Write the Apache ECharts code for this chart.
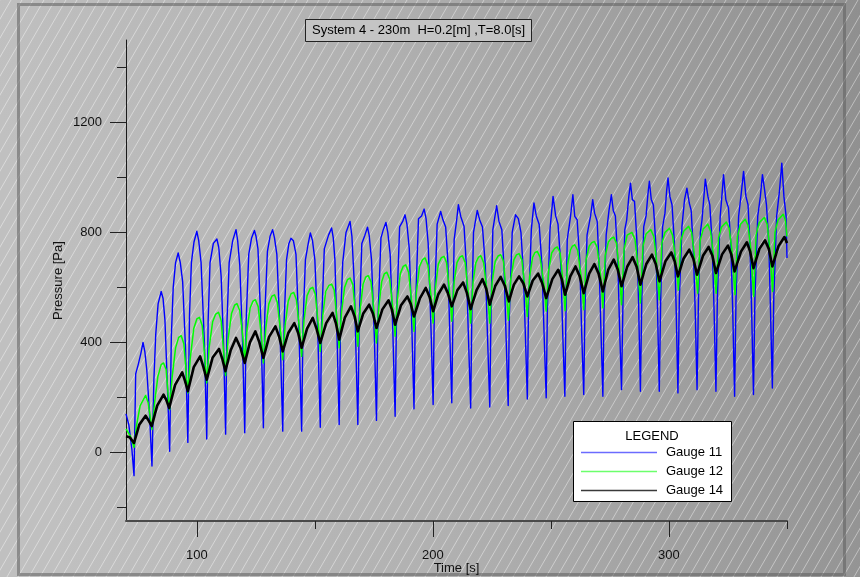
<!DOCTYPE html>
<html><head><meta charset="utf-8">
<script src="https://cdn.jsdelivr.net/npm/echarts@6/dist/echarts.min.js"></script>
<style>html,body{margin:0;padding:0;background:#a8a8a8}#c{width:860px;height:577px}</style>
</head><body><div id="c"></div>
<script>
// ---------- data ----------
const titleText = 'System 4 - 230m  H=0.2[m] ,T=8.0[s]';
const legendTitle = 'LEGEND';
const seriesNames = ['Gauge 11', 'Gauge 12', 'Gauge 14'];
const xName = 'Time [s]';
const yName = 'Pressure [Pa]';
const xRange = [70, 350];
const yRange = [-250, 1500];
const xMajorTicks = [100, 200, 300];
const xMinorTicks = [150, 250, 350];
const yMajorTicks = [0, 400, 800, 1200];
const yMinorTicks = [-200, 200, 600, 1000, 1400];

const gauge11 = [
[70.0,140],[71.2,100],[72.5,10],[73.4,-85],
[74.1,285],[75.2,320],[76.3,360],[77.2,400],[78.0,365],[78.8,300],[79.9,150],[81.0,-50],
[81.8,260],[82.6,430],[83.6,540],[84.9,585],[85.7,560],[86.5,480],[87.5,250],[88.5,4],
[89.2,420],[90.0,600],[91.0,690],[92.1,725],[93.0,690],[94.0,620],[95.2,380],[96.2,36],
[96.9,500],[97.7,690],[98.8,765],[100.0,804],[100.8,770],[101.8,690],[103.2,400],[104.2,48],
[104.8,480],[105.6,690],[107.0,760],[108.5,776],[109.3,745],[110.3,640],[111.3,400],[112.2,66],
[112.8,480],[113.7,690],[115.2,770],[116.6,810],[117.3,770],[118.2,680],[119.3,420],[120.3,71],
[120.9,480],[122.0,720],[123.2,780],[124.4,807],[125.1,785],[125.9,740],[127.1,480],[128.2,89],
[128.8,500],[129.9,730],[131.0,785],[132.1,810],[132.9,780],[133.9,720],[135.2,450],[136.4,77],
[137.0,480],[138.0,700],[139.0,760],[139.9,779],[140.9,770],[142.0,720],[143.3,430],[144.4,77],
[145.0,470],[146.0,700],[147.2,760],[148.1,798],[149.0,770],[150.0,700],[151.2,450],[152.3,91],
[152.9,480],[154.0,740],[155.8,790],[157.1,816],[157.8,780],[158.5,700],[159.4,420],[160.3,101],
[160.9,480],[161.8,690],[163.2,800],[164.9,840],[165.7,785],[166.7,615],[167.4,373],[168.2,101],
[168.8,480],[169.9,760],[171.2,790],[172.3,819],[173.0,790],[174.0,700],[175.2,420],[176.1,116],
[176.7,480],[178.0,780],[179.0,810],[180.1,836],[180.9,800],[181.9,720],[183.0,450],[184.0,131],
[184.6,500],[185.9,820],[187.2,840],[188.2,864],[189.0,830],[190.0,740],[191.1,450],[192.0,158],
[192.6,520],[193.9,850],[195.2,860],[196.3,885],[197.1,850],[198.0,760],[199.2,450],[200.1,174],
[200.6,520],[201.8,830],[203.3,876],[204.1,850],[205.4,820],[206.3,700],[207.2,420],[208.0,180],
[208.5,500],[209.0,773],[210.0,840],[210.8,901],[211.8,858],[213.2,822],[214.2,676],[215.0,434],[216.0,161],
[216.5,500],[217.2,800],[218.8,880],[219.8,846],[221.0,820],[222.2,680],[223.1,430],[224.1,165],
[224.6,500],[225.4,810],[227.0,897],[228.0,840],[229.2,810],[230.2,660],[231.0,420],[231.9,170],
[232.4,500],[233.6,800],[235.0,864],[236.2,850],[237.3,800],[238.3,660],[239.2,420],[240.0,194],
[240.5,520],[241.7,810],[242.8,907],[243.8,860],[245.0,830],[246.2,680],[247.1,430],[248.0,198],
[248.5,520],[249.6,810],[250.9,931],[252.0,860],[253.0,830],[254.2,680],[255.0,430],[255.9,204],
[256.4,520],[256.9,773],[258.3,858],[259.3,937],[260.1,858],[261.1,846],[262.2,700],[263.0,440],[263.9,210],
[264.4,520],[265.3,790],[266.8,860],[267.7,919],[268.5,870],[269.6,840],[270.4,680],[271.2,440],[272.0,204],
[272.5,520],[273.4,790],[274.6,880],[275.6,937],[276.4,880],[277.3,860],[278.3,700],[279.1,450],[279.9,228],
[280.6,592],[281.3,810],[282.1,846],[283.0,931],[283.7,979],[284.5,919],[285.4,913],[286.4,773],[287.1,555],[287.9,222],
[288.5,560],[289.3,820],[290.3,860],[291.1,940],[291.7,986],[292.5,920],[293.4,900],[294.4,760],[295.1,540],[295.9,222],
[296.5,560],[297.3,820],[298.3,870],[299.0,950],[299.6,998],[300.4,930],[301.3,900],[302.3,760],[303.0,540],[303.8,216],
[304.4,560],[305.5,822],[306.6,919],[307.6,961],[308.6,907],[309.4,880],[310.3,740],[311.1,520],[311.9,228],
[312.5,560],[313.3,800],[314.0,846],[315.4,994],[316.5,931],[317.3,900],[318.3,760],[319.1,520],[319.9,222],
[320.5,560],[321.7,858],[322.4,930],[323.1,1010],[324.1,919],[325.2,890],[326.2,760],[327.0,520],[327.8,204],
[328.4,560],[329.5,858],[330.6,940],[331.6,1022],[332.6,931],[333.5,900],[334.3,760],[335.0,520],[335.8,210],
[336.4,560],[337.6,858],[338.7,930],[339.6,1010],[340.5,955],[341.3,900],[342.3,760],[343.0,520],[343.8,234],
[344.4,560],[345.6,858],[346.8,950],[347.8,1052],[348.7,930],[349.6,860],[350.0,707]
];

const gauge12 = [
[70.0,85],[71.8,60],[73.4,18],
[74.5,100],[76.0,170],[78.3,207],[79.4,180],[80.4,120],[81.0,83],
[82.1,180],[83.5,276],[84.9,319],[85.9,325],[87.0,301],[87.9,204],[88.5,155],
[89.5,270],[91.0,380],[92.3,418],[93.4,424],[94.5,395],[95.5,290],[96.2,216],
[97.2,340],[98.7,450],[100.0,485],[101.1,491],[102.3,460],[103.5,330],[104.2,252],
[105.2,380],[106.7,475],[108.0,503],[109.2,509],[110.3,480],[111.5,350],[112.2,279],
[113.2,410],[114.7,505],[116.0,535],[117.0,541],[118.2,515],[119.5,420],[120.3,330],
[121.3,450],[122.6,525],[123.8,550],[124.8,555],[126.0,530],[127.4,420],[128.2,325],
[129.2,450],[130.5,540],[131.8,568],[132.9,573],[134.1,545],[135.6,430],[136.4,337],
[137.4,460],[138.7,550],[139.9,576],[141.0,582],[142.2,555],[143.6,440],[144.4,349],
[145.4,480],[146.7,570],[148.0,595],[149.1,600],[150.2,575],[151.5,460],[152.3,367],
[153.3,495],[154.6,585],[156.0,607],[157.1,612],[158.2,590],[159.5,470],[160.3,380],
[161.3,510],[162.6,600],[163.8,628],[164.9,634],[166.1,610],[167.4,480],[168.2,386],
[169.2,520],[170.4,610],[171.5,637],[172.6,643],[173.8,620],[175.3,490],[176.1,398],
[177.1,530],[178.3,620],[179.4,649],[180.5,655],[181.7,630],[183.2,510],[184.0,422],
[185.0,560],[186.2,650],[187.4,676],[188.5,682],[189.7,655],[191.2,530],[192.0,440],
[193.0,580],[194.3,675],[195.6,701],[196.7,707],[197.9,680],[199.3,560],[200.1,470],
[201.1,600],[202.3,685],[203.6,708],[204.7,713],[205.8,690],[207.2,570],[208.0,477],
[209.0,620],[210.2,690],[211.4,710],[212.5,715],[213.7,690],[215.2,560],[216.0,470],
[217.0,620],[218.2,690],[219.3,710],[220.3,715],[221.5,690],[223.3,560],[224.1,470],
[225.1,620],[226.4,695],[227.6,714],[228.7,719],[229.9,695],[231.2,570],[232.0,480],
[233.0,630],[234.3,700],[235.4,718],[236.5,723],[237.7,700],[239.2,580],[240.0,494],
[241.0,640],[242.2,708],[243.2,726],[244.2,731],[245.4,710],[247.2,600],[248.0,513],
[249.0,660],[250.3,725],[251.6,742],[252.7,747],[253.9,725],[255.2,610],[256.0,515],
[257.0,680],[258.2,735],[259.1,750],[260.1,755],[261.3,735],[263.1,620],[263.9,519],
[264.9,700],[266.2,750],[267.3,763],[268.4,767],[269.6,745],[271.2,630],[272.0,525],
[273.0,715],[274.3,765],[275.5,778],[276.6,783],[277.8,760],[279.1,640],[279.9,537],
[281.0,740],[282.3,790],[284.3,800],[285.6,775],[286.6,701],[287.4,600],[287.9,543],
[289.0,750],[290.3,795],[292.3,810],[293.6,785],[294.6,710],[295.4,610],[295.9,555],
[297.0,760],[298.3,800],[300.2,815],[301.5,790],[302.6,720],[303.5,640],[304.0,590],
[305.0,770],[306.3,805],[308.3,822],[309.6,800],[310.6,730],[311.6,630],[312.2,579],
[313.2,770],[314.5,812],[316.4,830],[317.6,805],[318.6,735],[319.5,630],[320.0,579],
[321.0,780],[322.3,820],[324.3,838],[325.5,815],[326.6,740],[327.5,630],[328.0,573],
[329.0,785],[330.3,830],[332.3,848],[333.5,825],[334.6,745],[335.4,630],[335.9,567],
[336.9,790],[338.2,835],[340.4,854],[341.6,830],[342.6,750],[343.4,650],[343.9,585],
[344.9,800],[346.2,845],[348.4,866],[349.3,845],[350.0,785]
];

const gauge14 = [
[70.0,58],[71.5,55],[73.4,34],
[75.6,100],[78.3,133],[79.6,115],[80.9,95],
[83.2,170],[85.9,210],[87.1,190],[88.3,161],
[90.8,245],[93.8,291],[95.0,260],[96.2,222],
[98.7,310],[101.4,349],[102.8,310],[104.2,264],
[106.7,345],[109.4,376],[110.8,340],[112.1,295],
[114.3,370],[116.6,416],[118.5,380],[120.3,325],
[122.5,400],[124.8,440],[126.5,400],[128.2,343],
[130.6,420],[133.3,458],[134.9,420],[136.4,367],
[138.8,435],[141.3,470],[142.9,435],[144.4,380],
[146.7,450],[149.1,489],[150.7,450],[152.3,398],
[154.8,470],[157.5,507],[158.9,470],[160.3,410],
[162.7,490],[165.3,531],[166.8,495],[168.2,440],
[170.5,505],[173.0,537],[174.6,505],[176.1,452],
[178.6,520],[181.2,553],[182.6,520],[184.0,464],
[186.5,535],[189.2,567],[190.6,540],[192.0,494],
[194.5,560],[197.0,598],[198.6,565],[200.1,513],
[202.3,575],[204.7,610],[206.3,580],[208.0,531],
[210.4,590],[212.8,618],[214.4,580],[216.0,521],
[218.5,590],[221.0,630],[222.6,595],[224.1,537],
[226.4,605],[228.7,638],[230.5,605],[232.2,549],
[234.3,610],[236.5,640],[238.3,615],[240.0,567],
[242.3,625],[244.6,650],[246.3,615],[248.0,561],
[250.6,630],[253.1,664],[254.6,630],[256.0,573],
[258.2,640],[260.4,676],[262.2,640],[263.9,579],
[266.2,650],[268.4,685],[270.2,650],[272.0,585],
[274.3,665],[276.6,701],[278.3,665],[279.9,604],
[282.3,675],[284.6,710],[286.3,675],[287.9,610],
[290.4,685],[292.8,719],[294.4,685],[296.0,622],
[298.5,695],[301.0,727],[302.4,695],[303.8,640],
[306.2,705],[308.6,737],[310.3,705],[311.9,646],
[314.4,715],[316.8,747],[318.4,715],[319.9,652],
[322.5,720],[325.0,752],[326.4,720],[327.8,658],
[330.5,730],[333.0,764],[334.4,730],[335.8,670],
[338.3,740],[340.7,771],[342.3,740],[343.8,676],
[346.4,750],[348.9,783],[350.0,761]
];

// ---------- styling ----------
const FONT = "'Liberation Sans', Arial, sans-serif";
const colors = ['#0000ff', '#00ff00', '#000000'];
const widths = [1.4, 1.5, 2.6];
const legendLineColors = ['#6b6bff', '#6cff6c', '#3a3a3a'];

function stripeTile() {
  const p = 11, h = 19;
  const c = document.createElement('canvas');
  c.width = p; c.height = h;
  const g = c.getContext('2d');
  g.strokeStyle = 'rgba(255,255,255,0.42)';
  g.lineWidth = 1;
  g.beginPath();
  for (const dx of [-p, 0, p]) { g.moveTo(dx, h); g.lineTo(dx + p, 0); }
  g.stroke();
  return c;
}

const chart = echarts.init(document.getElementById('c'), null, {renderer: 'canvas'});

const legendTop = 421.5, legendLeft = 573.5;
const legendGraphics = [
  {type: 'rect', z: 100, silent: true, shape: {x: legendLeft, y: legendTop, width: 158, height: 80},
   style: {fill: '#ffffff', stroke: '#000000', lineWidth: 1}},
  {type: 'text', z: 101, silent: true, x: 652, y: 436,
   style: {text: legendTitle, font: '13px ' + FONT, fill: '#000', align: 'center', verticalAlign: 'middle'}}
];
const rowY = [452.5, 471.5, 490.5];
seriesNames.forEach((n, i) => {
  legendGraphics.push({type: 'line', z: 101, silent: true,
    shape: {x1: 581, y1: rowY[i], x2: 657, y2: rowY[i]},
    style: {stroke: legendLineColors[i], lineWidth: 1.3}});
  legendGraphics.push({type: 'text', z: 101, silent: true, x: 666, y: rowY[i],
    style: {text: n, font: '13px ' + FONT, fill: '#000', align: 'left', verticalAlign: 'middle'}});
});

const axisCommon = {
  type: 'value',
  splitLine: {show: false},
  minorTick: {show: false}
};
const plain = v => String(v);

const option = {
  animation: false,
  backgroundColor: 'transparent',
  title: {
    text: titleText, left: 305, top: 19,
    padding: [5, 7, 5, 7],
    borderColor: '#222', borderWidth: 1, backgroundColor: '#c4c4c4',
    textStyle: {fontFamily: FONT, fontSize: 13, fontWeight: 'normal', color: '#000'}
  },
  grid: {left: 126, top: 40, width: 661, height: 481, containLabel: false, outerBoundsMode: 'none'},
  xAxis: [
    Object.assign({}, axisCommon, {
      min: xRange[0], max: xRange[1], position: 'bottom',
      name: xName, nameLocation: 'middle', nameGap: 41, nameMoveOverlap: false,
      nameTextStyle: {fontFamily: FONT, fontSize: 13, color: '#111'},
      axisLine: {show: true, onZero: false, lineStyle: {color: '#4a4a4a', width: 2}},
      axisTick: {show: true, customValues: xMajorTicks, length: 16, lineStyle: {color: '#222', width: 1}},
      axisLabel: {show: true, customValues: xMajorTicks, formatter: plain, margin: 28, fontFamily: FONT, fontSize: 13, color: '#111'}
    }),
    Object.assign({}, axisCommon, {
      min: xRange[0], max: xRange[1], position: 'bottom',
      axisLine: {show: false, onZero: false},
      axisTick: {show: true, customValues: xMinorTicks, length: 8, lineStyle: {color: '#222', width: 1}},
      axisLabel: {show: false}
    })
  ],
  yAxis: [
    Object.assign({}, axisCommon, {
      min: yRange[0], max: yRange[1], position: 'left',
      name: yName, nameLocation: 'middle', nameGap: 61, nameMoveOverlap: false,
      nameTextStyle: {fontFamily: FONT, fontSize: 13, color: '#111'},
      axisLine: {show: true, onZero: false, lineStyle: {color: '#1a1a1a', width: 1}},
      axisTick: {show: true, customValues: yMajorTicks, length: 16, lineStyle: {color: '#222', width: 1}},
      axisLabel: {show: true, customValues: yMajorTicks, formatter: plain, margin: 24, fontFamily: FONT, fontSize: 13, color: '#111'}
    }),
    Object.assign({}, axisCommon, {
      min: yRange[0], max: yRange[1], position: 'left',
      axisLine: {show: false, onZero: false},
      axisTick: {show: true, customValues: yMinorTicks, length: 9, lineStyle: {color: '#222', width: 1}},
      axisLabel: {show: false}
    })
  ],
  graphic: {elements: [
    {type: 'rect', z: -30, silent: true, shape: {x: 0, y: 0, width: 860, height: 577},
     style: {fill: {type: 'linear', x: 0, y: 0.2, x2: 1, y2: 0, colorStops: [
       {offset: 0, color: '#c0c0c0'}, {offset: 0.45, color: '#b0b0b0'}, {offset: 1, color: '#8f8f8f'}]}}},
    {type: 'rect', z: -29, silent: true, shape: {x: 0, y: 0, width: 860, height: 577},
     style: {fill: {image: stripeTile(), repeat: 'repeat'}}},
    {type: 'rect', z: -28, silent: true, shape: {x: 18.5, y: 4.5, width: 826, height: 570},
     style: {fill: 'none', stroke: 'rgba(95,95,95,0.55)', lineWidth: 3}}
  ].concat(legendGraphics)},
  series: [0, 1, 2].map(i => ({
    name: seriesNames[i],
    type: 'line',
    xAxisIndex: 0, yAxisIndex: 0,
    data: [gauge11, gauge12, gauge14][i],
    symbol: 'none',
    sampling: null,
    smooth: false,
    clip: true,
    lineStyle: {color: colors[i], width: widths[i], join: 'round'},
    itemStyle: {color: colors[i]},
    z: 2 + i
  }))
};
chart.setOption(option);
</script>
</body></html>
